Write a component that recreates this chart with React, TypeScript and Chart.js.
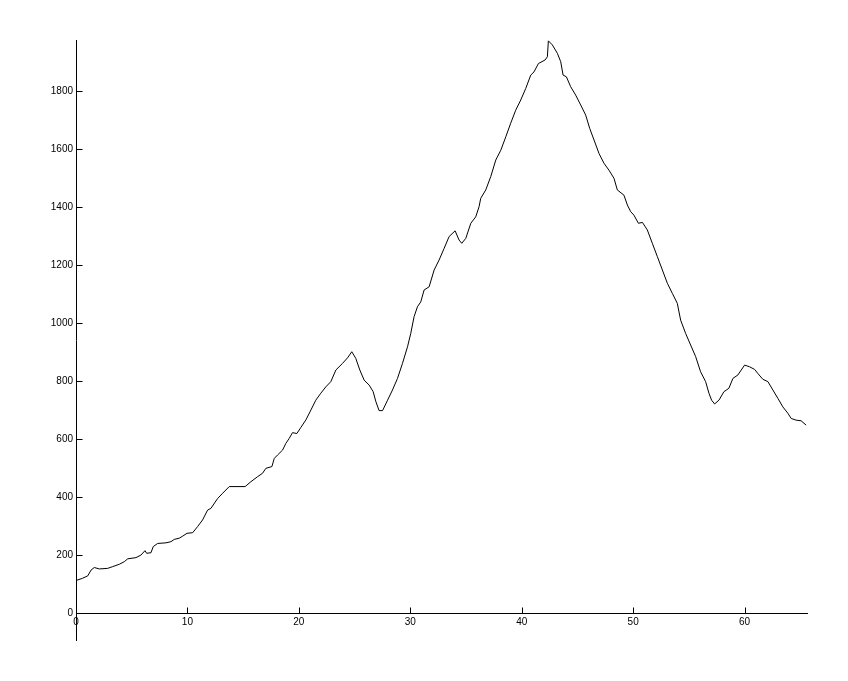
import React, { useEffect, useRef } from "react";
import { Chart, registerables } from "chart.js";

Chart.register(...registerables);

const xValues = [
  0, 0.6, 1.05, 1.35, 1.64, 2.09, 2.84, 3.29, 3.88, 4.33, 4.64, 5.38, 5.83, 6.19, 6.34, 6.73, 6.93, 7.33, 8.07, 8.52,
  8.82, 9.26, 9.57, 9.96, 10.47, 10.91, 11.36, 11.81, 12.11, 12.71, 13.16, 13.75, 15.18, 15.7, 16.29, 16.74, 17.04,
  17.58, 17.79, 18.09, 18.54, 18.83, 19.13, 19.43, 19.82, 20.18, 20.63, 21.08, 21.52, 21.97, 22.42, 22.87, 23.32,
  23.92, 24.37, 24.75, 25.11, 25.47, 25.86, 26.31, 26.67, 26.91, 27.2, 27.51, 27.96, 28.4, 28.85, 29.3, 29.75, 30.04,
  30.34, 30.64, 30.94, 31.24, 31.69, 32.14, 32.58, 33.03, 33.48, 34.02, 34.38, 34.62, 34.98, 35.43, 35.87, 36.17,
  36.32, 36.77, 37.22, 37.67, 38.12, 38.57, 39.01, 39.46, 39.91, 40.36, 40.81, 41.1, 41.5, 42.09, 42.3, 42.39, 42.75,
  43.2, 43.5, 43.71, 44.01, 44.39, 44.84, 45.29, 45.74, 46.1, 46.49, 46.93, 47.38, 47.83, 48.28, 48.58, 49.17, 49.48,
  49.78, 50.07, 50.47, 50.83, 51.27, 51.72, 52.17, 52.62, 53.07, 53.52, 53.96, 54.26, 54.71, 55.16, 55.61, 56.05,
  56.5, 56.8, 57.04, 57.31, 57.7, 58.14, 58.59, 58.95, 59.4, 59.7, 60.0, 60.45, 60.9, 61.19, 61.64, 62.09, 62.54,
  62.99, 63.43, 63.88, 64.18, 64.63, 65.07, 65.52,
];

const yValues = [
  112, 120, 128, 148, 157, 152, 154, 160, 168, 177, 187, 191, 200, 215, 206, 208, 229, 240, 242, 246,
  254, 258, 265, 275, 277, 298, 321, 355, 361, 395, 413, 436, 436, 453, 470, 482, 499,
  505, 533, 545, 562, 585, 602, 622, 619, 640, 666, 700, 734, 758, 780, 798, 838,
  861, 880, 901, 878, 838, 803, 786, 763, 729, 698, 698, 734, 769, 809, 861, 918, 964,
  1022, 1056, 1073, 1114, 1125, 1183, 1217, 1257, 1298, 1318, 1286, 1275, 1292, 1344, 1366, 1401,
  1430, 1459, 1505, 1562, 1596, 1642, 1689, 1734, 1769, 1809, 1855, 1866, 1895, 1907, 1918, 1973, 1959,
  1930, 1901, 1855, 1849, 1815, 1786, 1752, 1717, 1671, 1631, 1585, 1551, 1527, 1499, 1459, 1441, 1407,
  1384, 1372, 1344, 1347, 1321, 1275, 1229, 1183, 1137, 1102, 1068, 1010, 964, 924, 884, 832,
  798, 758, 734, 721, 734, 763, 775, 809, 821, 838, 855, 849, 840, 826, 806, 798, 769,
  740, 711, 689, 671, 665, 663, 648,
];

const xTicks = [0, 10, 20, 30, 40, 50, 60];
const yTicks = [0, 200, 400, 600, 800, 1000, 1200, 1400, 1600, 1800];

const tickMarks = {
  id: "tickMarks",
  afterDraw(chart: any) {
    const ctx = chart.ctx;
    const xs = chart.scales.x;
    const ys = chart.scales.y;
    const y0 = Math.round(ys.getPixelForValue(0)) + 0.5;
    const x0 = Math.round(xs.getPixelForValue(0)) + 0.5;
    ctx.save();
    ctx.strokeStyle = "#000";
    ctx.lineWidth = 1;
    ctx.beginPath();
    for (const v of yTicks) {
      const py = Math.round(ys.getPixelForValue(v)) + 0.5;
      ctx.moveTo(x0, py);
      ctx.lineTo(x0 + 6, py);
    }
    for (const v of xTicks) {
      const px = Math.round(xs.getPixelForValue(v)) + 0.5;
      ctx.moveTo(px, y0);
      ctx.lineTo(px, y0 - 6);
    }
    ctx.stroke();
    ctx.restore();
  },
};

export default function App() {
  const ref = useRef<HTMLCanvasElement | null>(null);
  useEffect(() => {
    if (!ref.current) return;
    const points = xValues.map((x, i) => ({ x, y: yValues[i] }));
    const font = { family: "'Liberation Sans', Arial, Helvetica, sans-serif", size: 10 };
    const chart = new Chart(ref.current, {
      type: "line",
      data: {
        datasets: [
          {
            data: points,
            borderColor: "#000",
            borderWidth: 1,
            pointRadius: 0,
            tension: 0,
            fill: false,
          },
        ],
      },
      options: {
        animation: false,
        responsive: false,
        maintainAspectRatio: false,
        devicePixelRatio: 1,
        parsing: false as any,
        layout: { padding: { left: 0, top: 40, right: 41, bottom: 41 } },
        plugins: { legend: { display: false }, tooltip: { enabled: false } },
        scales: {
          x: {
            type: "linear",
            min: 0,
            max: 65.6,
            position: { y: 0 } as any,
            grid: { display: false, drawTicks: false },
            border: { display: true, color: "#000", width: 1 },
            afterBuildTicks: (s: any) => {
              s.ticks = xTicks.map((v) => ({ value: v }));
            },
            ticks: {
              color: "#000",
              font,
              padding: 3,
              maxRotation: 0,
              autoSkip: false,
              callback: (v: any) => String(v),
            },
          },
          y: {
            type: "linear",
            min: -93,
            max: 1976,
            position: "left",
            grid: { display: false, drawTicks: false },
            border: { display: true, color: "#000", width: 1 },
            afterBuildTicks: (s: any) => {
              s.ticks = yTicks.map((v) => ({ value: v }));
            },
            afterFit: (s: any) => {
              s.width = 76;
            },
            ticks: { color: "#000", font, padding: 3, autoSkip: false, callback: (v: any) => String(v) },
          },
        },
      },
      plugins: [tickMarks],
    });
    return () => chart.destroy();
  }, []);
  return (
    <div style={{ position: "absolute", left: 0, top: 0, width: 848, height: 681, background: "#fff" }}>
      <canvas ref={ref} width={848} height={681} style={{ width: 848, height: 681, display: "block" }} />
    </div>
  );
}
